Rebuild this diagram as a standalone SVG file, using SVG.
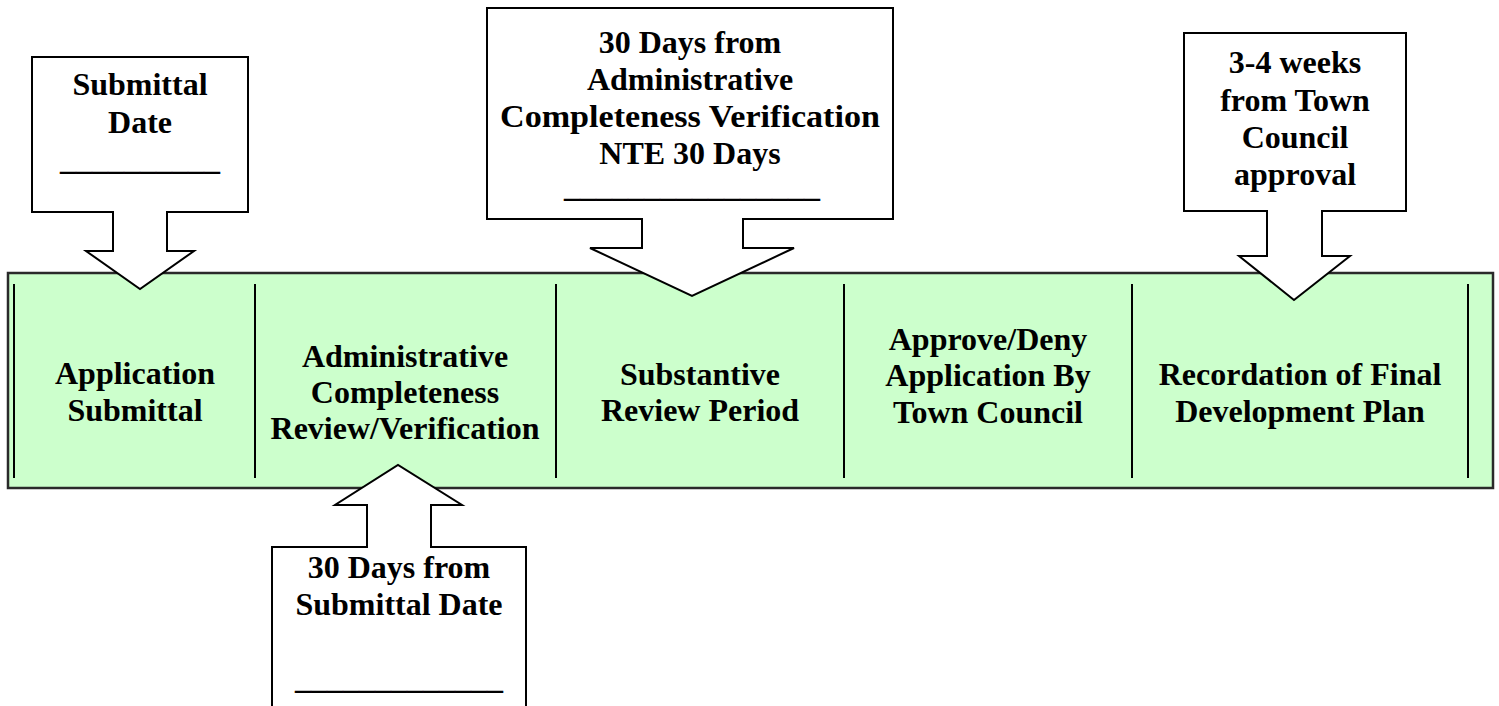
<svg xmlns="http://www.w3.org/2000/svg" width="1499" height="706" viewBox="0 0 1499 706">
  <style>
    .t { font-family: "Liberation Serif", "Times New Roman", serif; font-weight: bold; font-size: 32px; fill: #000; text-anchor: middle; }
    .bar { fill: #CCFFCC; stroke: #2a2a2a; stroke-width: 2.5; }
    .div { stroke: #000; stroke-width: 2; }
    .call { fill: #FFFFFF; stroke: #000; stroke-width: 2; stroke-linejoin: miter; }
  </style>
  <rect width="1499" height="706" fill="#FFFFFF"/>

  <g id="timeline">
    <rect class="bar" x="8" y="273" width="1485" height="215"/>
    <g id="dividers">
      <line class="div" x1="14" y1="284" x2="14" y2="478"/>
      <line class="div" x1="255" y1="284" x2="255" y2="478"/>
      <line class="div" x1="556" y1="284" x2="556" y2="478"/>
      <line class="div" x1="844" y1="284" x2="844" y2="478"/>
      <line class="div" x1="1132" y1="284" x2="1132" y2="478"/>
      <line class="div" x1="1468" y1="284" x2="1468" y2="478"/>
    </g>
  </g>

  <g id="step-application-submittal">
    <text class="t" x="135" y="384">Application</text>
    <text class="t" x="135" y="421">Submittal</text>
  </g>
  <g id="step-admin-review">
    <text class="t" x="405" y="367">Administrative</text>
    <text class="t" x="405" y="403">Completeness</text>
    <text class="t" x="405" y="439">Review/Verification</text>
  </g>
  <g id="step-substantive-review">
    <text class="t" x="700" y="385">Substantive</text>
    <text class="t" x="700" y="421">Review Period</text>
  </g>
  <g id="step-approve-deny">
    <text class="t" x="988" y="350">Approve/Deny</text>
    <text class="t" x="988" y="386">Application By</text>
    <text class="t" x="988" y="423">Town Council</text>
  </g>
  <g id="step-recordation">
    <text class="t" x="1300" y="385">Recordation of Final</text>
    <text class="t" x="1300" y="422">Development Plan</text>
  </g>

  <g id="connectors">
    <g id="callout-submittal-date">
      <path class="call" d="M32,57 H248 V212 H167 V251 H194 L140,289 L86,251 H113 V212 H32 Z"/>
      <text class="t" x="140" y="95">Submittal</text>
      <text class="t" x="140" y="133">Date</text>
      <text class="t" x="140" y="170">__________</text>
    </g>
    <g id="callout-30-days-admin">
      <path class="call" d="M487,8 H893 V219 H743 V248 H794 L692,296 L590,248 H642 V219 H487 Z"/>
      <text class="t" x="690" y="53">30 Days from</text>
      <text class="t" x="690" y="90">Administrative</text>
      <text class="t" x="690" y="127" textLength="380" lengthAdjust="spacingAndGlyphs">Completeness Verification</text>
      <text class="t" x="690" y="164">NTE 30 Days</text>
      <text class="t" x="692" y="197">________________</text>
    </g>
    <g id="callout-3-4-weeks">
      <path class="call" d="M1184,33 H1406 V211 H1322 V256 H1350 L1294,300 L1239,256 H1267 V211 H1184 Z"/>
      <text class="t" x="1295" y="73">3-4 weeks</text>
      <text class="t" x="1295" y="111">from Town</text>
      <text class="t" x="1295" y="148">Council</text>
      <text class="t" x="1295" y="185">approval</text>
    </g>
    <g id="callout-30-days-submittal">
      <path class="call" d="M272,720 V547 H367 V505 H335 L398,465 L462,505 H431 V547 H526 V720"/>
      <text class="t" x="399" y="578">30 Days from</text>
      <text class="t" x="399" y="615">Submittal Date</text>
      <text class="t" x="399" y="689">_____________</text>
    </g>
  </g>
</svg>
